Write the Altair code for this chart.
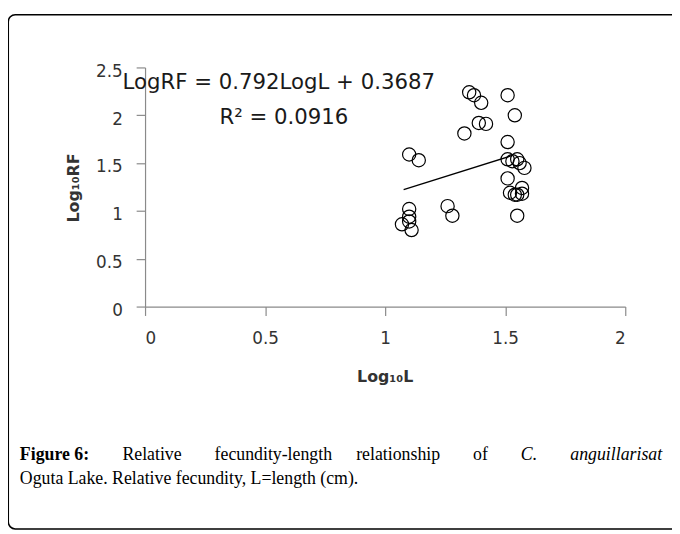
import altair as alt
import pandas as pd

# Data
log_l = [1.10, 1.14, 1.33, 1.39, 1.42, 1.35, 1.37, 1.40, 1.51, 1.54,
         1.51, 1.51, 1.53, 1.55, 1.56, 1.58, 1.51, 1.57, 1.52, 1.54,
         1.55, 1.57, 1.55, 1.26, 1.28, 1.10, 1.10, 1.07, 1.10, 1.11]
log_rf = [1.59, 1.53, 1.81, 1.92, 1.91, 2.24, 2.21, 2.13, 2.21, 2.00,
          1.72, 1.54, 1.52, 1.54, 1.50, 1.45, 1.34, 1.24, 1.19, 1.17,
          1.17, 1.18, 0.95, 1.05, 0.95, 1.02, 0.94, 0.86, 0.89, 0.80]
trend_x = [1.077, 1.53]
trend_y = [1.222, 1.580]

x_ticks = [0, 0.5, 1, 1.5, 2]
y_ticks = [0, 0.5, 1, 1.5, 2, 2.5]

equation = "LogRF = 0.792LogL + 0.3687"
r2_text = "R² = 0.0916"
x_title = "Log₁₀L"
y_title = "Log₁₀RF"
cap_words = ["Relative", "fecundity-length", "relationship", "of"]
cap_bold = "Figure 6:"
cap_ital1 = "C."
cap_ital2 = "anguillarisat"
cap_line2 = "Oguta Lake. Relative fecundity, L=length (cm)."

pts = pd.DataFrame({"x": log_l, "y": log_rf})
trend = pd.DataFrame({"x": trend_x, "y": trend_y})

AX = "#8a8a8a"
LBL = "#333333"
FONT = "DejaVu Sans"
SERIF = "Liberation Serif"

xs = alt.Scale(domain=[0, 2], nice=False, zero=False)
ys = alt.Scale(domain=[0, 2.5], nice=False, zero=False)

xaxis = alt.Axis(values=x_ticks, format="~g", grid=False, domainColor=AX, tickColor=AX,
                 tickSize=9, labelPadding=15, labelFont=FONT, labelFontSize=17,
                 labelColor=LBL, title=None, domainWidth=1.2, tickWidth=1.2)
yaxis = alt.Axis(values=y_ticks, format="~g", grid=False, domainColor=AX, tickColor=AX,
                 tickSize=9, labelPadding=14, labelFont=FONT, labelFontSize=17,
                 labelColor=LBL, title=None, labelOffset=4, domainWidth=1.2, tickWidth=1.2)

points = alt.Chart(pts).mark_point(shape="circle", filled=False, size=180,
                                   stroke="black", strokeWidth=1.2, opacity=1).encode(
    x=alt.X("x:Q", scale=xs, axis=xaxis),
    y=alt.Y("y:Q", scale=ys, axis=yaxis),
)

line = alt.Chart(trend).mark_line(color="black", strokeWidth=1.3).encode(
    x=alt.X("x:Q", scale=xs),
    y=alt.Y("y:Q", scale=ys),
)

one = alt.Data(values=[{}])
OX, OY = 146.7, 65.0  # page position of the plot origin


def txt(text, px, py, **kw):
    return alt.Chart(one).mark_text(text=text, **kw).encode(
        x=alt.value(px - OX), y=alt.value(py - OY))


layers = []
layers.append(txt(equation, 124, 86.7, align="left", baseline="alphabetic", font=FONT,
                  fontSize=21.5, color="#1a1a1a"))
layers.append(txt(r2_text, 222, 122.7, align="left", baseline="alphabetic", font=FONT,
                  fontSize=21.5, color="#1a1a1a"))
layers.append(txt(x_title, 389.7, 383, align="center", baseline="alphabetic", font=FONT,
                  fontSize=16, fontWeight="bold", color="#333333"))
layers.append(txt(y_title, 80, 187, align="center", baseline="alphabetic", font=FONT,
                  fontSize=16, fontWeight="bold", color="#333333", angle=270))

# caption (justified first line)
CAP_Y1, CAP_Y2, CS = 462, 487, 18
layers.append(txt(cap_bold, 20, CAP_Y1, align="left", baseline="alphabetic", font=SERIF,
                  fontSize=CS, fontWeight="bold", color="black"))
for w, px in zip(cap_words, [123.8, 217.1, 360.4, 478.7]):
    layers.append(txt(w, px, CAP_Y1, align="left", baseline="alphabetic", font=SERIF,
                      fontSize=CS, color="black"))
layers.append(txt(cap_ital1, 527, CAP_Y1, align="left", baseline="alphabetic", font=SERIF,
                  fontSize=CS, fontStyle="italic", color="black"))
layers.append(txt(cap_ital2, 670, CAP_Y1, align="right", baseline="alphabetic", font=SERIF,
                  fontSize=CS, fontStyle="italic", color="black"))
layers.append(txt(cap_line2, 20, CAP_Y2, align="left", baseline="alphabetic", font=SERIF,
                  fontSize=CS, color="black"))

frame = alt.Chart(one).mark_rect(filled=False, stroke="black", strokeWidth=1.5,
                                 cornerRadius=7).encode(
    x=alt.value(8.3 - OX), x2=alt.value(700 - OX),
    y=alt.value(11.7 - OY), y2=alt.value(532 - OY)
)

chart = alt.layer(frame, line, points, *layers).properties(
    width=486, height=242,
    autosize=alt.AutoSizeParams(type="none"),
    padding={"left": 138.7, "top": 57, "right": 47.3, "bottom": 227},
).configure_view(stroke=None)

chart.save("out.html", embed_options={"renderer": "svg", "actions": False})
